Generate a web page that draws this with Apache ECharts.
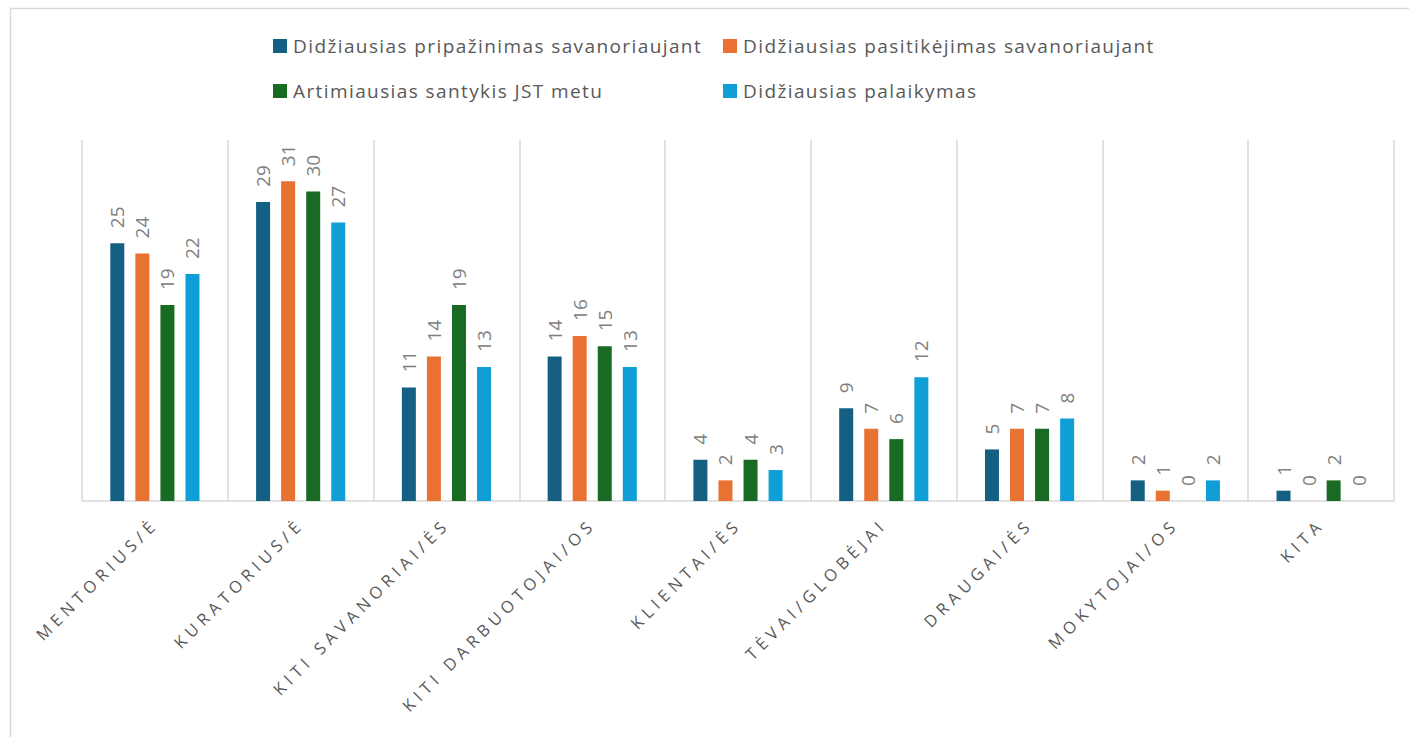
<!DOCTYPE html>
<html>
<head>
<meta charset="utf-8">
<script src="https://cdn.jsdelivr.net/npm/echarts@6/dist/echarts.min.js"></script>
<style>
  html, body { margin: 0; padding: 0; background: #ffffff; }
  #chart { width: 1409px; height: 737px; }
</style>
</head>
<body>
<div id="chart"></div>
<script>
// Categories (x axis) and the four answer series
const categories = [
  'MENTORIUS/Ė', 'KURATORIUS/Ė', 'KITI SAVANORIAI/ĖS', 'KITI DARBUOTOJAI/OS',
  'KLIENTAI/ĖS', 'TĖVAI/GLOBĖJAI', 'DRAUGAI/ĖS', 'MOKYTOJAI/OS', 'KITA'
];
const seriesNames = [
  'Didžiausias pripažinimas savanoriaujant',
  'Didžiausias pasitikėjimas savanoriaujant',
  'Artimiausias santykis JST metu',
  'Didžiausias palaikymas'
];
const pripazinimas = [25, 29, 11, 14, 4, 9, 5, 2, 1];
const pasitikejimas = [24, 31, 14, 16, 2, 7, 7, 1, 0];
const santykis = [19, 30, 19, 15, 4, 6, 7, 0, 2];
const palaikymas = [22, 27, 13, 13, 3, 12, 8, 2, 0];
const seriesValues = [pripazinimas, pasitikejimas, santykis, palaikymas];
const colors = ['#156082', '#E97132', '#196B24', '#0F9ED5'];

const FONT = "'Open Sans', 'Noto Sans', sans-serif";

const chart = echarts.init(document.getElementById('chart'), null, { renderer: 'svg' });

// Legend laid out as a 2x2 block
const legendPos = [
  { left: 273, top: 35 },
  { left: 723, top: 35 },
  { left: 273, top: 80 },
  { left: 723, top: 80 }
];

const option = {
  animation: false,
  backgroundColor: '#ffffff',
  textStyle: { fontFamily: FONT },
  graphic: [{
    type: 'rect',
    shape: { x: 10.5, y: 8.5, width: 1420, height: 760 },
    style: { fill: 'none', stroke: '#d9d9d9', lineWidth: 1.5 },
    silent: true
  }],
  legend: seriesNames.map((name, i) => ({
    data: [name],
    left: legendPos[i].left,
    top: legendPos[i].top,
    padding: 0,
    icon: 'rect',
    itemWidth: 14,
    itemHeight: 14,
    itemGap: 6,
    selectedMode: false,
    textStyle: { color: '#595959', fontSize: 19, fontFamily: FONT, lineHeight: 22, padding: [0, 0, 0, 1] }
  })),
  grid: { left: 82, right: 15, top: 140, bottom: 236, containLabel: false },
  xAxis: {
    type: 'category',
    data: categories,
    boundaryGap: true,
    axisLine: { show: true, lineStyle: { color: '#d9d9d9', width: 1.5 } },
    axisTick: { show: false },
    splitLine: { show: true, interval: 0, lineStyle: { color: '#d9d9d9', width: 1.5 } },
    axisLabel: {
      interval: 0,
      rotate: 45,
      margin: 20,
      fontSize: 16.5,
      color: '#595959',
      fontFamily: FONT
    }
  },
  yAxis: {
    type: 'value',
    min: 0,
    max: 35,
    show: false,
    splitLine: { show: false }
  },
  series: seriesNames.map((name, i) => ({
    name: name,
    type: 'bar',
    data: seriesValues[i],
    barWidth: 14,
    barGap: '79%',
    itemStyle: { color: colors[i] },
    label: {
      show: true,
      position: 'top',
      rotate: 90,
      align: 'left',
      verticalAlign: 'middle',
      distance: 15,
      fontSize: 19,
      color: '#808080',
      fontFamily: FONT
    }
  }))
};

chart.setOption(option);

// Category labels are drawn widely spaced, legend text slightly spaced
function spaceTexts() {
  const texts = document.querySelectorAll('#chart svg text');
  texts.forEach(t => {
    const s = t.textContent;
    if (categories.indexOf(s) >= 0) {
      t.style.letterSpacing = '5px';
    } else if (seriesNames.indexOf(s) >= 0) {
      t.style.letterSpacing = '1.4px';
    }
  });
}
chart.on('finished', spaceTexts);
spaceTexts();
</script>
</body>
</html>
